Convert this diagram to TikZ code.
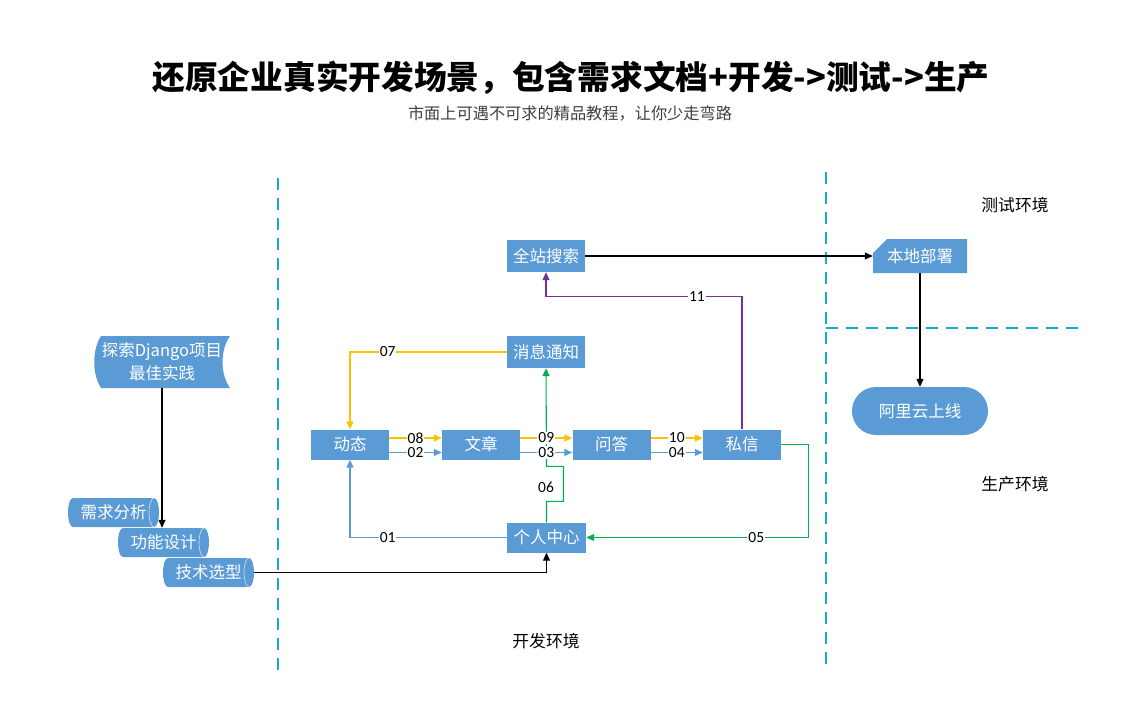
\documentclass[tikz,border=0pt]{standalone}
\usepackage{fontspec}
\setmainfont{Noto Sans CJK SC}
\newfontfamily\numfont{Carlito}
\usetikzlibrary{arrows.meta}
\definecolor{nb}{RGB}{91,155,213}
\definecolor{cy}{RGB}{24,172,212}
\definecolor{yl}{RGB}{255,192,0}
\definecolor{gr}{RGB}{0,176,80}
\definecolor{pu}{RGB}{112,48,160}
\definecolor{lb}{RGB}{91,155,213}
\definecolor{sub}{RGB}{64,64,64}
\newcommand{\hcyl}[4]{%
  \fill[nb] (#2-40.5,#3+14.5) -- (#2+40.5,#3+14.5)
     arc[start angle=90,end angle=-90,x radius=5,y radius=14.5]
     -- (#2-40.5,#3-14.5)
     arc[start angle=270,end angle=90,x radius=5,y radius=14.5] -- cycle;
  \draw[white!75!nb, line width=0.6pt] (#2+40.5,#3+14.5)
     arc[start angle=90,end angle=270,x radius=5,y radius=14.5];
  \node[txt, minimum width=91pt, minimum height=29pt] (#1) at (#2,#3) {#4};}
\begin{document}
\begin{tikzpicture}[x=1pt,y=1pt,
  txt/.style={text=white, font=\fontsize{16.5}{19}\selectfont, inner sep=0pt},
  box/.style={txt, fill=nb, minimum width=78pt, minimum height=30pt},
  lbl/.style={fill=white, inner sep=1pt, font=\numfont\fontsize{15.5}{16}\selectfont, text=black},
  conn/.style={line width=1.1pt, -{Triangle[length=8pt,width=7pt]}},
  env/.style={font=\fontsize{16.8}{19}\selectfont, text=black},
  sep/.style={cy, line width=1.5pt, dash pattern=on 12pt off 8pt}]
\useasboundingbox (0,0) rectangle (1137,-709);

% title
\node[font=\bfseries\fontsize{32.7}{36}\selectfont] (title) at (571,-78)
  {还原企业真实开发场景，包含需求文档+开发->测试->生产};
\node[font=\fontsize{16.2}{19}\selectfont, text=sub] (subtitle) at (570,-113)
  {市面上可遇不可求的精品教程，让你少走弯路};

% separators
\draw[sep] (278,-178) -- (278,-675);
\draw[sep] (826,-172) -- (826,-670);
\draw[sep] (826,-328) -- (1078,-328);

% environment labels
\node[env] (testenv) at (1015,-205) {测试环境};
\node[env] (prodenv) at (1015,-484) {生产环境};
\node[env] (devenv) at (546,-641) {开发环境};

% left side
\fill[nb] (101,-336) -- (230,-336) .. controls (220,-350) and (220,-374) .. (230,-388)
  -- (101,-388) .. controls (92,-374) and (92,-350) .. (101,-336) -- cycle;
\node[txt, font=\fontsize{16.5}{23}\selectfont, align=center, minimum width=135pt, minimum height=52pt]
  (explore) at (162,-362) {探索Django项目\\最佳实践};
\hcyl{req}{113.5}{-512.5}{需求分析}
\hcyl{func}{163.5}{-542.5}{功能设计}
\hcyl{tech}{208.5}{-572.5}{技术选型}

% main boxes
\node[box, minimum height=32pt] (search) at (546,-256) {全站搜索};
\node[box, minimum height=32pt] (msg) at (546,-352) {消息通知};
\node[box] (dyn) at (350,-444.5) {动态};
\node[box] (art) at (481,-444.5) {文章};
\node[box] (qa) at (611.5,-444.5) {问答};
\node[box] (pm) at (742,-444.5) {私信};
\node[box, minimum width=79pt] (pc) at (546.5,-537.5) {个人中心};

% right side
\fill[nb] (873,-253) -- (887,-239) -- (967,-239) -- (967,-273) -- (873,-273) -- cycle;
\node[txt, minimum width=94pt, minimum height=34pt] (local) at (920,-256) {本地部署};
\node[box, rounded corners=24pt, minimum width=136pt, minimum height=48pt] (ali) at (920,-411) {阿里云上线};

% connectors
\draw[conn] (search.east) -- (local.west);
\draw[conn] (local.south) -- (ali.north);
\draw[conn] (explore.south) -- (explore.south |- func.north);
\draw[conn] (tech.east) -| (pc.south);

\draw[conn,gr] (pc.north) -- ++(0,21) -- ++(17,0) -- ++(0,35) -- ++(-17,0) -- (msg.south);
\node[lbl] (l06) at (546,-487) {06};

\draw[conn,yl] (msg.west) -| node[lbl,pos=0.38]{07} (dyn.north);
\draw[conn,lb] (pc.west) -| node[lbl,pos=0.38]{01} (dyn.south);
\draw[conn,gr] (pm.east) -- ++(27,0) |- node[lbl,pos=0.617]{05} (pc.east);
\draw[conn,pu] (pm.north) -- ++(0,133) -| node[lbl,pos=0.115]{11} (search.south);

\draw[conn,yl] ([yshift=6.5pt]dyn.east) -- node[lbl]{08} ([yshift=6.5pt]art.west);
\draw[conn,lb] ([yshift=-8pt]dyn.east) -- node[lbl]{02} ([yshift=-8pt]art.west);
\draw[conn,yl] ([yshift=6.5pt]art.east) -- node[lbl]{09} ([yshift=6.5pt]qa.west);
\draw[conn,lb] ([yshift=-8pt]art.east) -- node[lbl]{03} ([yshift=-8pt]qa.west);
\draw[conn,yl] ([yshift=6.5pt]qa.east) -- node[lbl]{10} ([yshift=6.5pt]pm.west);
\draw[conn,lb] ([yshift=-8pt]qa.east) -- node[lbl]{04} ([yshift=-8pt]pm.west);
\end{tikzpicture}
\end{document}
